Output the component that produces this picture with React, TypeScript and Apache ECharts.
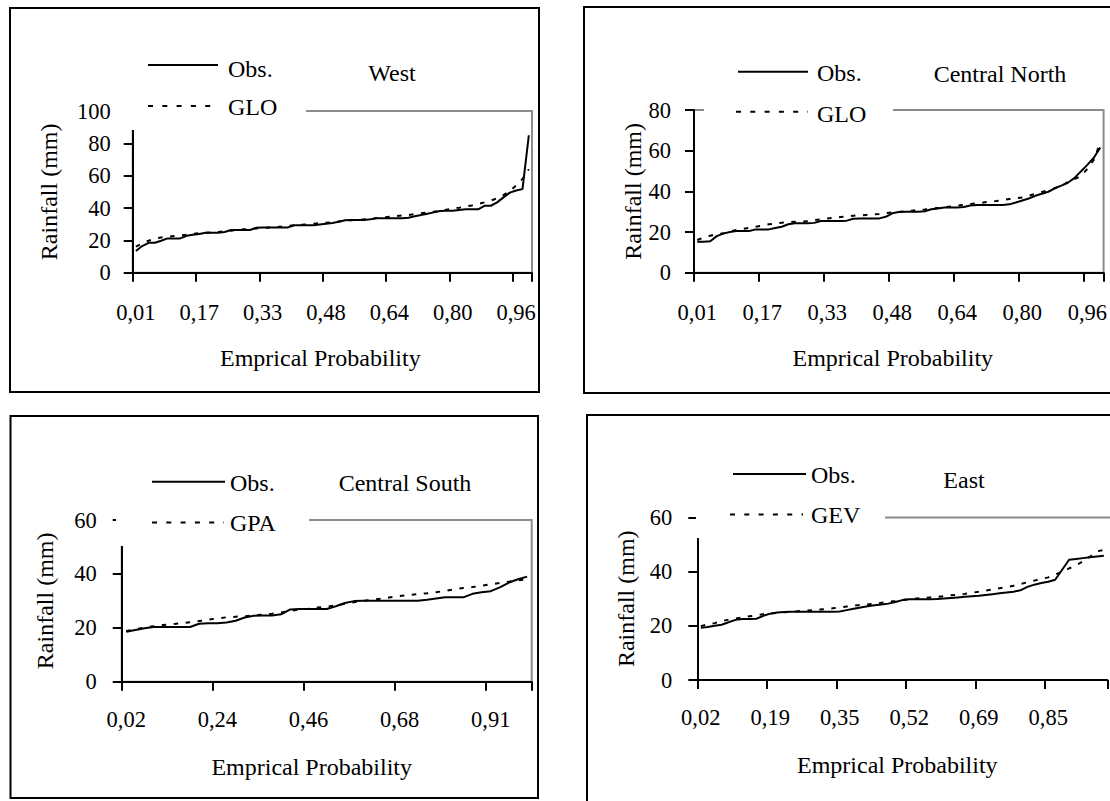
import React, { useEffect, useRef } from "react";
import * as echarts from "echarts";

// ---------- data ----------
const westObs = [
  13.4, 16.5, 18.5, 18.5, 19.8, 21.2, 21.2, 21.2, 22.8, 23.5,
  24.0, 24.7, 24.7, 24.7, 25.2, 26.4, 26.4, 26.4, 26.4, 27.8,
  28.0, 28.0, 28.0, 28.0, 28.0, 29.3, 29.3, 29.3, 29.3, 29.8,
  30.3, 30.8, 31.5, 32.4, 32.6, 32.6, 32.6, 33.0, 33.6, 33.6,
  33.6, 33.6, 33.6, 34.0, 34.9, 35.7, 36.5, 37.3, 38.1, 38.3,
  38.3, 38.8, 39.2, 39.2, 39.2, 41.4, 41.4, 43.5, 46.6, 49.5,
  50.8, 51.7, 85.0,
];
const westGlo = [
  16.1, 18.0, 19.8, 21.0, 21.8, 22.3, 22.7, 23.1, 23.5, 24.0,
  24.4, 24.7, 25.0, 25.2, 25.6, 26.0, 26.4, 26.8, 27.1, 27.4,
  27.7, 28.0, 28.2, 28.5, 29.0, 29.4, 29.6, 29.9, 30.3, 30.6,
  30.9, 31.2, 31.7, 32.1, 32.4, 32.7, 33.0, 33.4, 33.8, 34.2,
  34.6, 35.0, 35.4, 35.7, 36.2, 36.8, 37.3, 37.7, 38.3, 39.0,
  39.6, 40.2, 40.9, 41.6, 42.5, 43.5, 44.6, 46.0, 48.0, 50.5,
  54.0, 58.0, 64.0,
];
const cnObs = [
  15.2, 15.2, 15.5, 18.0, 19.2, 20.0, 20.5, 20.5, 20.5, 21.3,
  21.3, 21.3, 22.0, 22.6, 23.8, 24.3, 24.3, 24.3, 24.5, 25.4,
  25.4, 25.4, 25.4, 25.6, 26.5, 26.7, 26.7, 26.7, 26.7, 27.5,
  29.2, 29.8, 30.0, 30.0, 30.0, 30.2, 31.2, 31.6, 32.1, 32.1,
  32.1, 32.3, 33.0, 33.3, 33.3, 33.3, 33.3, 33.3, 33.6, 34.5,
  35.5, 36.5, 37.8, 38.8, 39.8, 41.5, 42.8, 44.2, 46.5, 49.8,
  53.0, 56.5, 61.6,
];
const cnGlo = [
  16.1, 17.3, 18.2, 18.9, 19.4, 20.2, 21.0, 21.5, 22.1, 22.6,
  23.2, 23.8, 24.2, 24.6, 24.8, 25.0, 25.1, 25.3, 25.8, 26.2,
  26.6, 27.0, 27.4, 27.7, 28.0, 28.2, 28.4, 28.6, 28.9, 29.3,
  29.6, 29.9, 30.2, 30.5, 30.8, 31.1, 31.5, 31.8, 32.1, 32.6,
  33.0, 33.4, 33.8, 34.1, 34.5, 34.9, 35.2, 35.7, 36.2, 36.6,
  37.0, 37.8, 38.8, 39.7, 40.6, 41.5, 42.8, 44.5, 46.0, 47.5,
  51.0, 55.5, 64.0,
];
const csObs = [
  18.5, 19.2, 19.8, 20.3, 20.3, 20.3, 20.3, 20.3, 21.5, 21.7,
  21.7, 22.0, 22.6, 23.8, 24.5, 24.6, 24.6, 25.0, 26.8, 27.0,
  27.0, 27.0, 27.0, 28.0, 29.2, 29.9, 30.0, 30.0, 30.0, 30.0,
  30.0, 30.0, 30.0, 30.4, 30.9, 31.3, 31.3, 31.3, 32.6, 33.2,
  33.6, 35.0, 36.8, 38.0, 39.0,
];
const csGpa = [
  18.8, 19.5, 20.1, 20.6, 21.0, 21.3, 21.7, 22.1, 22.5, 23.0,
  23.5, 23.9, 24.1, 24.3, 24.6, 24.9, 25.2, 25.7, 26.3, 26.8,
  27.1, 27.5, 27.8, 28.3, 28.9, 29.5, 30.0, 30.4, 30.8, 31.3,
  31.8, 32.2, 32.5, 32.8, 33.2, 33.7, 34.3, 34.8, 35.1, 35.6,
  36.2, 36.6, 37.1, 37.6, 38.0,
];
const eastObs = [
  19.3, 19.6, 20.0, 20.4, 21.3, 22.2, 22.5, 22.5, 22.6, 23.7,
  24.5, 24.9, 25.1, 25.2, 25.2, 25.2, 25.2, 25.2, 25.2, 25.2,
  25.3, 25.8, 26.3, 26.8, 27.2, 27.6, 27.9, 28.2, 28.8, 29.5,
  29.8, 29.8, 29.8, 29.8, 29.9, 30.1, 30.3, 30.5, 30.7, 30.9,
  31.1, 31.4, 31.7, 32.0, 32.3, 32.6, 33.1, 34.4, 35.2, 35.8,
  36.3, 37.0, 40.7, 44.4, 44.7, 45.0, 45.3, 45.6, 45.9,
];
const eastGev = [
  19.9, 20.5, 21.0, 21.7, 22.3, 22.7, 23.1, 23.5, 23.9, 24.3,
  24.6, 24.8, 25.0, 25.2, 25.4, 25.6, 25.8, 26.0, 26.2, 26.5,
  26.8, 27.1, 27.4, 27.7, 27.9, 28.1, 28.5, 28.9, 29.2, 29.5,
  29.8, 30.1, 30.3, 30.5, 30.7, 31.0, 31.3, 31.5, 31.8, 32.2,
  32.6, 33.0, 33.4, 33.9, 34.3, 34.8, 35.4, 36.1, 36.7, 37.3,
  37.9, 38.9, 40.0, 41.2, 42.3, 43.8, 45.5, 47.5, 48.0,
];

// empirical probability categories (plotting positions), shown as "0,01"
const probLabels = (n: number, a: number, b: number) =>
  Array.from({ length: n }, (_, i) =>
    ((i + 1 - a) / (n + b)).toFixed(2).replace(".", ",")
  );
const westProb = probLabels(63, 0.44, 0.12);
const cnProb = probLabels(63, 0.44, 0.12);
const csProb = probLabels(45, 0.25, 0);
const eastProb = probLabels(59, -0.2, 1);

const titles = ["West", "Central North", "Central South", "East"];
const fitNames = ["GLO", "GLO", "GPA", "GEV"];
const yMaxes = [100, 80, 60, 60];
const yTitle = "Rainfall (mm)";
const xTitle = "Emprical Probability";

// ---------- layout ----------
const FONT = "Liberation Serif";
const TICK_FS = 22.5;
const TEXT_FS = 24;
const GRAY = "#8c8c8c";
const panels = [
  {
    cats: westProb, obs: westObs, fit: westGlo,
    grid: { left: 132.7, top: 111, width: 399.3, height: 161.7 }, frame: true,
    yLabelMargin: 22, xLabelMargin: 28, yNameGap: 72, xNameShift: 12,
    box: [10, 8, 529, 384], legendBox: [114, 40, 192, 90],
    obsLine: [148, 218, 65], fitLine: [148, 218, 106], textX: 228,
    obsTextY: 68.5, fitTextY: 107, title: [392, 72.5],
  },
  {
    cats: cnProb, obs: cnObs, fit: cnGlo,
    grid: { left: 694, top: 110, width: 410.3, height: 162.7 }, frame: true,
    yLabelMargin: 23, xLabelMargin: 28, yNameGap: 49, xNameShift: 6,
    box: [584, 7, 560, 386], legendBox: [704, 40, 189, 88],
    obsLine: [738, 808, 71.7], fitLine: [736, 808, 111.7], textX: 817,
    obsTextY: 72.5, fitTextY: 113.5, title: [1000, 73.5],
  },
  {
    cats: csProb, obs: csObs, fit: csGpa,
    grid: { left: 121.7, top: 520, width: 410, height: 161.7 }, frame: true,
    yLabelMargin: 25, xLabelMargin: 26, yNameGap: 65, xNameShift: 15,
    box: [10.5, 416, 527.5, 382], legendBox: [116, 455, 193, 91],
    obsLine: [152, 225, 481.7], fitLine: [152, 224, 522.5], textX: 230,
    obsTextY: 483, fitTextY: 522.5, title: [405, 483],
  },
  {
    cats: eastProb, obs: eastObs, fit: eastGev,
    grid: { left: 697.3, top: 517.5, width: 410, height: 162.5 }, frame: false,
    yLabelMargin: 25, xLabelMargin: 26, yNameGap: 59, xNameShift: 5,
    box: [587, 415, 560, 420], legendBox: [696, 445, 189, 93],
    obsLine: [733, 806, 474], fitLine: [730, 803, 514.5], textX: 811,
    obsTextY: 474.5, fitTextY: 515, title: [964, 480],
  },
];

const black = "#000";
const textBase = { color: black, fontFamily: FONT };

function txt(text: string, x: number, y: number, align: string, size = TEXT_FS) {
  return {
    type: "text",
    x,
    y,
    z: 102,
    style: {
      text,
      fontSize: size,
      fontFamily: FONT,
      fill: black,
      align,
      textAlign: align,
      verticalAlign: "middle",
      textVerticalAlign: "middle",
    },
  };
}

function buildOption() {
  const grid: any[] = [];
  const xAxis: any[] = [];
  const yAxis: any[] = [];
  const series: any[] = [];
  const graphic: any[] = [];

  panels.forEach((p, k) => {
    grid.push({
      ...p.grid,
      show: true,
      borderColor: p.frame ? GRAY : "transparent",
      borderWidth: p.frame ? 2 : 0,
      backgroundColor: "transparent",
    });
    xAxis.push({
      type: "category",
      gridIndex: k,
      data: p.cats,
      boundaryGap: true,
      axisLine: { show: true, lineStyle: { color: black, width: 2 } },
      axisTick: { show: true, interval: 9, length: 9, lineStyle: { color: black, width: 2 } },
      axisLabel: { interval: 9, margin: p.xLabelMargin, fontSize: TICK_FS, ...textBase },
      splitLine: { show: false },
      name: xTitle,
      nameLocation: "middle",
      nameGap: 73,
      nameTextStyle: { fontSize: TEXT_FS, ...textBase, padding: [0, p.xNameShift * 2, 0, 0] },
    });
    yAxis.push({
      type: "value",
      gridIndex: k,
      min: 0,
      max: yMaxes[k],
      interval: 20,
      axisLine: { show: true, lineStyle: { color: black, width: 2 } },
      axisTick: { show: true, length: 9, lineStyle: { color: black, width: 2 } },
      axisLabel: { margin: p.yLabelMargin, fontSize: TICK_FS, ...textBase },
      splitLine: { show: false },
      name: yTitle,
      nameLocation: "middle",
      nameGap: p.yNameGap,
      nameTextStyle: { fontSize: TEXT_FS, ...textBase },
    });
    series.push({
      type: "line",
      name: "Obs.",
      xAxisIndex: k,
      yAxisIndex: k,
      data: p.obs,
      symbol: "none",
      showSymbol: false,
      lineStyle: { color: black, width: 2 },
      z: 3,
    });
    series.push({
      type: "line",
      name: fitNames[k],
      xAxisIndex: k,
      yAxisIndex: k,
      data: p.fit,
      symbol: "none",
      showSymbol: false,
      lineStyle: { color: black, width: 2, type: [4.5, 7.5] },
      z: 4,
    });

    // panel frame
    graphic.push({
      type: "rect",
      z: 1,
      shape: { x: p.box[0], y: p.box[1], width: p.box[2], height: p.box[3] },
      style: { fill: "none", stroke: black, lineWidth: 2 },
    });
    // plot-area top edge only (right edge falls outside the picture)
    if (!p.frame) {
      graphic.push({
        type: "line",
        z: 1,
        shape: { x1: p.grid.left, y1: p.grid.top, x2: 1120, y2: p.grid.top },
        style: { stroke: GRAY, lineWidth: 2 },
      });
    }
    // legend background (white) covering the plot frame
    graphic.push({
      type: "rect",
      z: 100,
      shape: { x: p.legendBox[0], y: p.legendBox[1], width: p.legendBox[2], height: p.legendBox[3] },
      style: { fill: "#fff", stroke: "none" },
    });
    graphic.push({
      type: "line",
      z: 101,
      shape: { x1: p.obsLine[0], y1: p.obsLine[2], x2: p.obsLine[1], y2: p.obsLine[2] },
      style: { stroke: black, lineWidth: 2 },
    });
    graphic.push({
      type: "line",
      z: 101,
      shape: { x1: p.fitLine[0], y1: p.fitLine[2], x2: p.fitLine[1], y2: p.fitLine[2] },
      style: { stroke: black, lineWidth: 2, lineDash: [5, 9.3] },
    });
    graphic.push(txt("Obs.", p.textX, p.obsTextY, "left"));
    graphic.push(txt(fitNames[k], p.textX, p.fitTextY, "left"));
    graphic.push(txt(titles[k], p.title[0], p.title[1], "center"));
  });

  return {
    animation: false,
    backgroundColor: "#fff",
    textStyle: { fontFamily: FONT },
    grid,
    xAxis,
    yAxis,
    series,
    graphic: { elements: graphic },
  };
}

export default function App() {
  const ref = useRef<HTMLDivElement>(null);
  useEffect(() => {
    if (!ref.current) return;
    const chart = echarts.init(ref.current, undefined, { renderer: "svg" });
    chart.setOption(buildOption() as any);
    return () => chart.dispose();
  }, []);
  return (
    <div
      ref={ref}
      style={{ position: "fixed", left: 0, top: 0, width: 1110, height: 801, background: "#fff" }}
    />
  );
}
